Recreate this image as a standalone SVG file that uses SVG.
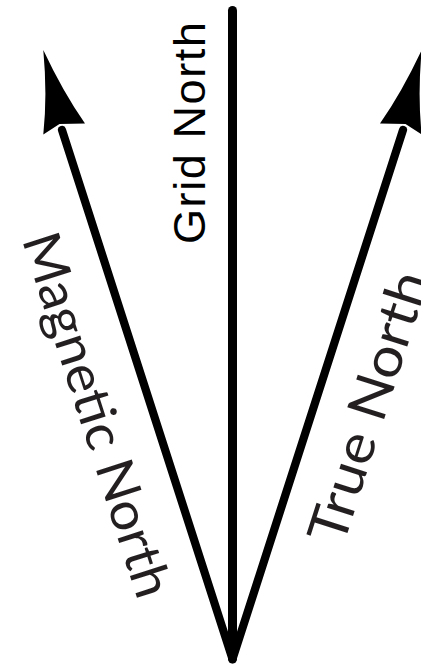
<svg xmlns="http://www.w3.org/2000/svg" xmlns:xlink="http://www.w3.org/1999/xlink" width="421" height="667" viewBox="0 0 421 667">
  <style>
    .ln { fill: none; stroke: #000; stroke-linecap: round; stroke-linejoin: round; }
    .lbl { font-family: Lato, "Open Sans", sans-serif; fill: #231f20; font-size: 52px; }
    .grid { font-family: "Liberation Sans", Arial, sans-serif; fill: #000; font-size: 45px; }
  </style>
  <defs>
    <path id="head" d="M43.3,50 Q47.5,95 43.3,134.5 L59.5,124 L85,123.5 Q63,92 43.3,50 Z" fill="#000"/>
  </defs>
  <rect width="421" height="667" fill="#fff"/>
  <g id="connectors">
    <path class="ln" d="M232.5,10.5 L232.5,659" stroke-width="9"/>
    <path class="ln" d="M62,130 L232.5,659 L403,130" stroke-width="8.2"/>
    <use xlink:href="#head"/>
    <use xlink:href="#head" transform="translate(465,0) scale(-1,1)"/>
  </g>
  <g id="grid-north">
    <text class="grid" transform="translate(205,244) rotate(-90)" textLength="222" lengthAdjust="spacing">Grid North</text>
  </g>
  <g id="magnetic-north">
    <text class="lbl" transform="translate(21.8,239.5) rotate(72.2)" textLength="380" lengthAdjust="spacingAndGlyphs">Magnetic North</text>
  </g>
  <g id="true-north">
    <text class="lbl" transform="translate(343,547) rotate(-72.2)" style="font-size:54px" textLength="282" lengthAdjust="spacingAndGlyphs">True North</text>
  </g>
</svg>
